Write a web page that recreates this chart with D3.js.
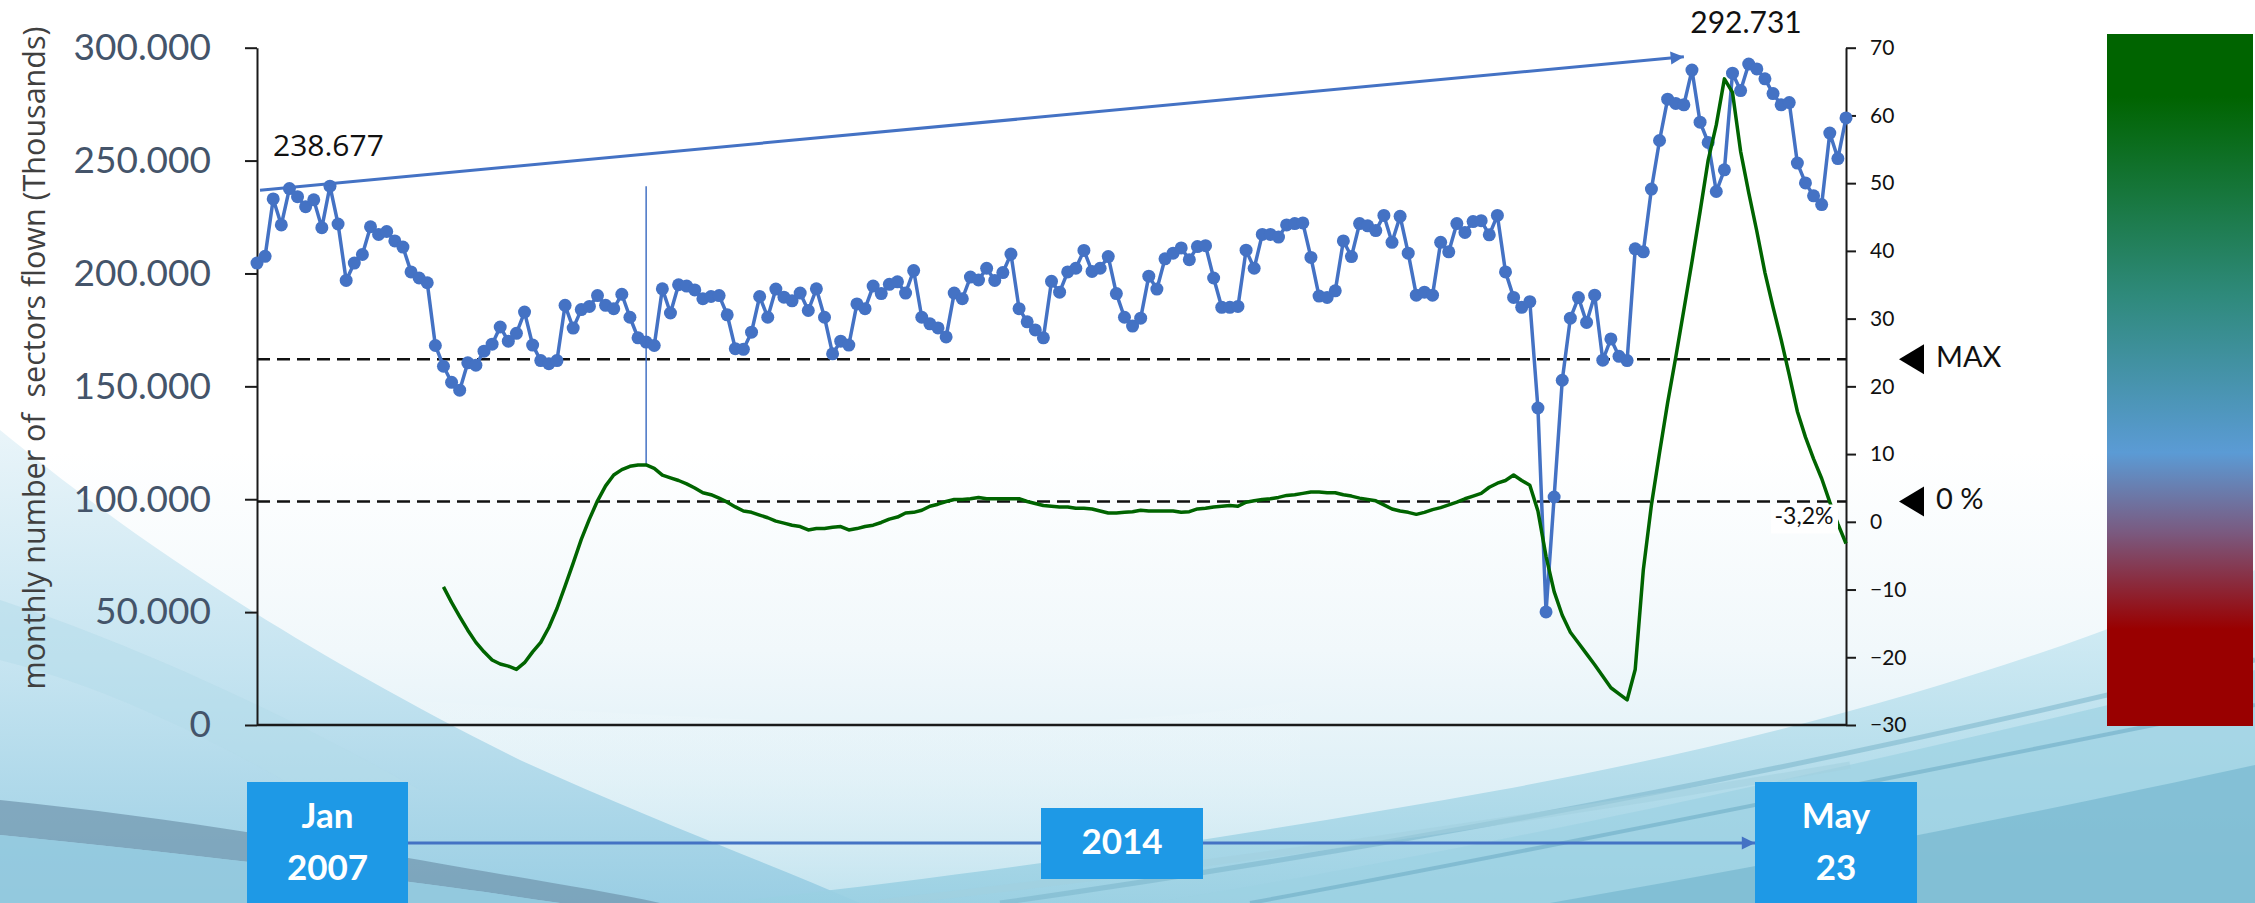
<!DOCTYPE html>
<html><head><meta charset="utf-8">
<script src="https://cdn.jsdelivr.net/npm/d3@7"></script>
<style>
html,body{margin:0;padding:0;background:#fff;overflow:hidden}
svg{display:block}
</style></head><body>
<svg id="chart" width="2255" height="903"></svg>
<script>
// ---------------- DATA ----------------
// monthly number of sectors flown (thousands), Jan 2007 .. May 2023
const sectors = [
204.6,207.6,233.0,221.5,237.6,234.0,229.6,232.6,220.3,238.677,221.9,196.9,
204.6,208.4,220.7,217.3,218.6,214.4,211.7,200.7,198.0,195.9,168.1,158.9,
151.8,148.3,160.4,159.4,165.6,168.7,176.3,170.0,173.5,182.9,168.3,161.4,
160.0,161.4,185.9,175.8,184.0,185.4,190.2,185.9,184.4,190.8,180.6,171.5,
169.6,168.1,193.2,182.5,195.0,194.4,192.7,188.8,189.8,190.2,181.7,166.7,
166.4,174.0,189.8,180.6,193.1,189.5,187.9,191.3,183.6,193.2,180.6,164.4,
170.0,168.3,186.5,184.4,194.4,191.1,195.2,196.3,191.3,201.3,180.6,177.7,
175.9,171.9,191.3,188.8,198.4,197.1,202.3,196.9,200.4,208.6,184.4,178.6,
175.0,171.5,196.5,191.7,200.7,202.3,210.2,200.9,202.3,207.5,191.1,180.6,
176.7,180.2,198.8,193.1,206.5,209.0,211.3,206.1,211.9,212.3,198.0,185.0,
185.0,185.4,210.3,202.3,217.3,217.3,216.1,221.5,222.1,222.4,207.1,190.0,
189.4,192.3,214.4,207.5,222.1,221.1,219.0,225.7,213.8,225.3,209.0,190.4,
191.7,190.4,213.8,209.6,222.1,218.2,223.0,223.4,217.1,225.7,200.7,189.4,
185.0,187.5,140.4,50.1,101.0,152.7,180.2,189.3,178.3,190.4,161.6,171.0,
163.3,161.4,210.9,209.6,237.4,258.9,277.2,275.3,274.7,290.1,267.0,258.0,
236.3,245.9,288.7,281.0,292.731,290.6,286.2,279.7,274.7,275.7,248.9,240.1,
234.4,230.5,262.2,250.9,268.9
];
// growth (%) right axis, Dec 2008 .. May 2023
const growth = [
-9.6,-11.9,-14.0,-16.0,-17.8,-19.2,-20.4,-21.0,-21.3,-21.8,-20.8,-19.2,
-17.8,-15.6,-12.8,-9.5,-6.1,-2.6,0.4,3.1,5.3,6.9,7.7,8.2,
8.4,8.4,7.9,6.9,6.5,6.1,5.6,5.0,4.3,4.0,3.5,2.9,
2.2,1.6,1.4,1.0,0.6,0.1,-0.2,-0.5,-0.7,-1.2,-1.0,-1.0,
-0.8,-0.7,-1.2,-1.0,-0.7,-0.5,-0.1,0.4,0.7,1.3,1.4,1.7,
2.3,2.6,3.0,3.3,3.3,3.4,3.6,3.4,3.4,3.4,3.4,3.4,
3.0,2.7,2.4,2.3,2.2,2.2,2.0,2.0,1.9,1.6,1.3,1.3,
1.4,1.5,1.7,1.6,1.6,1.6,1.6,1.4,1.5,1.9,2.0,2.2,
2.3,2.4,2.3,2.9,3.1,3.3,3.4,3.6,3.9,4.0,4.2,4.4,
4.4,4.3,4.3,4.0,3.8,3.5,3.3,3.1,2.5,1.9,1.6,1.4,
1.1,1.4,1.8,2.1,2.5,2.9,3.4,3.8,4.2,5.1,5.7,6.1,
6.9,6.1,5.4,1.6,-5.1,-10.3,-13.8,-16.3,-17.9,-19.5,-21.1,-22.8,
-24.5,-25.4,-26.3,-21.8,-7.1,2.5,10.2,17.6,24.3,31.3,38.4,45.8,
53.4,58.6,65.4,63.4,54.7,48.6,42.9,36.8,31.7,26.9,21.7,16.3,
12.5,9.3,6.4,2.9,-0.3,-3.2
];
const months = d3.timeMonth.range(new Date(2007,0,1), new Date(2023,5,1)).map(d3.timeFormat("%Y-%m"));
const growthMonths = months.slice(months.length - growth.length);
const leftTicks = [0,50,100,150,200,250,300];
const rightTicks = [-30,-20,-10,0,10,20,30,40,50,60,70];
const startLabel = "238.677", peakLabel = "292.731";
const markerMonth = "2011-01";
const trendFrom = ["2007-01", 236.9], trendTo = ["2021-09", 296.0];
const maxLevel = 24, zeroLevel = 3;
const lastLabel = "-3,2%";
const timelineLabels = [["Jan","2007"],["2014"],["May","23"]];
const yTitle = "monthly number of  sectors flown (Thousands)";

// ---------------- SETUP ----------------
const W = 2255, H = 903;
const svg = d3.select("#chart");
const defs = svg.append("defs");
const X0 = 257, X1 = 1846, YT = 47.7, YB = 725;

const x = d3.scalePoint().domain(months).range([X0, X1]);
const yL = d3.scaleLinear().domain([0,300]).range([YB, YT]);
const yR = d3.scaleLinear().domain([-30,70]).range([YB, YT]);

// ---------------- BACKGROUND ----------------
function lg(id, stops, vertical=true){
  const g = defs.append("linearGradient").attr("id", id)
    .attr("x1",0).attr("y1",0).attr("x2", vertical?0:1).attr("y2", vertical?1:0);
  stops.forEach(s => g.append("stop").attr("offset", s[0]).attr("stop-color", s[1]).attr("stop-opacity", s[2]===undefined?1:s[2]));
}
lg("bgBase", [[0,"#ffffff"],[0.5,"#ffffff"],[0.72,"#f1f8fb"],[1,"#cfe9f3"]]);
lg("leftGlow", [[0,"#e8f4f9"],[0.5,"#c3e3f0"],[1,"#98cde3"]]);
lg("rightGlow", [[0,"#d6eef6"],[1,"#98cfe2"]]);
lg("midGlow", [[0,"#ffffff",0],[1,"#bfe2ee",0.9]]);
lg("bar", [[0,"#006400"],[0.09,"#006400"],[0.38,"#2f8a7c"],[0.605,"#5b9bd5"],[0.72,"#7a5a80"],[0.86,"#990000"],[1,"#990000"]]);

const bg = svg.append("g");
bg.append("rect").attr("width",W).attr("height",H).attr("fill","url(#bgBase)");
bg.append("path").attr("d","M240,903 L240,690 C600,710 1000,750 1300,700 L1300,903 Z").attr("fill","url(#midGlow)");
bg.append("path").attr("d","M0,430 C110,520 260,630 520,760 C640,815 760,860 860,903 L0,903 Z").attr("fill","url(#leftGlow)").attr("opacity",0.95);
bg.append("path").attr("d","M0,600 C120,640 260,700 420,790 L300,790 C180,720 80,680 0,660 Z").attr("fill","#b4dbea").attr("opacity",0.5);
bg.append("path").attr("d","M0,800 C150,815 300,840 420,860 C520,878 600,890 660,903 L560,903 C440,885 250,860 0,835 Z").attr("fill","#6f94ad").attr("opacity",0.7);
bg.append("path").attr("d","M0,835 C250,860 440,885 560,903 L0,903 Z").attr("fill","#92c8dd").attr("opacity",0.85);
bg.append("path").attr("d","M720,903 C1000,872 1250,835 1500,790 C1800,735 2050,660 2255,570 L2255,903 Z").attr("fill","url(#rightGlow)").attr("opacity",0.9);
bg.append("path").attr("d","M1150,903 C1450,855 1800,780 2255,670 L2255,903 Z").attr("fill","#9dd1e3").attr("opacity",0.7);
bg.append("path").attr("d","M1550,903 C1800,860 2050,810 2255,765 L2255,903 Z").attr("fill","#6fb2cc").attr("opacity",0.6);
[["M1000,903 C1300,860 1700,795 2255,660","#7ab4ca",5],["M1250,903 C1550,848 1900,775 2255,705","#6aa9c2",4],["M880,903 C1200,866 1500,825 1850,765","#a3cfde",7]]
  .forEach(p => bg.append("path").attr("d",p[0]).attr("fill","none").attr("stroke",p[1]).attr("stroke-width",p[2]).attr("opacity",0.55));

// right colour bar
svg.append("rect").attr("x",2107).attr("y",34).attr("width",146).attr("height",692).attr("fill","url(#bar)");

// ---------------- AXES ----------------
const ptFmt = d3.formatLocale({decimal:",", thousands:".", grouping:[3], currency:["","€"]}).format(",");
const axL = svg.append("g").attr("transform",`translate(${X0},0)`)
  .call(d3.axisLeft(yL).tickValues(leftTicks).tickSize(12).tickSizeOuter(0).tickPadding(34).tickFormat(d => ptFmt(d*1000)));
axL.select(".domain").attr("stroke","#1a1a1a").attr("stroke-width",2);
axL.selectAll(".tick line").attr("stroke","#1a1a1a").attr("stroke-width",2);
axL.selectAll(".tick text").attr("font-family","Lato, 'Open Sans', sans-serif").attr("font-size",37).attr("fill","#44546A");

const axR = svg.append("g").attr("transform",`translate(${X1},0)`)
  .call(d3.axisRight(yR).tickValues(rightTicks).tickSize(10).tickSizeOuter(0).tickPadding(14));
axR.select(".domain").attr("stroke","#1a1a1a").attr("stroke-width",2);
axR.selectAll(".tick line").attr("stroke","#1a1a1a").attr("stroke-width",2);
axR.selectAll(".tick text").attr("font-family","Lato, 'Open Sans', sans-serif").attr("font-size",21).attr("fill","#111");

svg.append("line").attr("x1",X0).attr("x2",X1).attr("y1",YB).attr("y2",YB).attr("stroke","#1a1a1a").attr("stroke-width",2.5);

svg.append("text").attr("transform",`translate(45,358) rotate(-90)`)
  .attr("text-anchor","middle").attr("font-family","'Open Sans', sans-serif").attr("font-size",30.5)
  .attr("fill","#404040").attr("xml:space","preserve").style("white-space","pre").text(yTitle);

// ---------------- REFERENCE LINES ----------------
[maxLevel, zeroLevel].forEach(v => {
  svg.append("line").attr("x1",X0).attr("x2",X1).attr("y1",yR(v)).attr("y2",yR(v))
    .attr("stroke","#111").attr("stroke-width",2.5).attr("stroke-dasharray","13,7");
});

// ---------------- SERIES ----------------
const blue = "#4472C4";
svg.append("path").datum(sectors)
  .attr("d", d3.line().x((d,i)=>x(months[i])).y(d=>yL(d)))
  .attr("fill","none").attr("stroke",blue).attr("stroke-width",3.5).attr("stroke-linejoin","round");
svg.append("g").selectAll("circle").data(sectors).join("circle")
  .attr("cx",(d,i)=>x(months[i])).attr("cy",d=>yL(d)).attr("r",6.5).attr("fill",blue);

// vertical marker
const mi = growthMonths.indexOf(markerMonth);
svg.append("line").attr("x1",x(markerMonth)).attr("x2",x(markerMonth))
  .attr("y1",yL(+startLabel)).attr("y2",yR(growth[mi])).attr("stroke",blue).attr("stroke-width",1.5);

svg.append("path").datum(growth)
  .attr("d", d3.line().x((d,i)=>x(growthMonths[i])).y(d=>yR(d)))
  .attr("fill","none").attr("stroke","#006400").attr("stroke-width",3.5).attr("stroke-linejoin","round");

// ---------------- ANNOTATIONS ----------------
defs.append("marker").attr("id","arr").attr("viewBox","0 0 10 10").attr("refX",10).attr("refY",5)
  .attr("markerWidth",5).attr("markerHeight",4.4).attr("markerUnits","strokeWidth").attr("orient","auto")
  .append("path").attr("d","M0,0 L10,5 L0,10 Z").attr("fill",blue);
svg.append("line").attr("x1",x(trendFrom[0])+3).attr("y1",yL(trendFrom[1]))
  .attr("x2",x(trendTo[0])).attr("y2",yL(trendTo[1]))
  .attr("stroke",blue).attr("stroke-width",3).attr("marker-end","url(#arr)");

svg.append("text").attr("x",273).attr("y",156).attr("font-family","'Open Sans', sans-serif").attr("font-size",30)
  .attr("fill","#111").text(startLabel);
svg.append("text").attr("x",1746).attr("y",33).attr("text-anchor","middle").attr("font-family","Lato, sans-serif")
  .attr("font-size",30).attr("fill","#111").text(peakLabel);

// MAX / 0% markers
function marker(v, label){
  const yy = yR(v);
  svg.append("path").attr("d",`M1899,${yy} L1924,${yy-15} L1924,${yy+15} Z`).attr("fill","#000");
  svg.append("text").attr("x",1936).attr("y",yy+8).attr("font-family","Lato, sans-serif").attr("font-size",29)
    .attr("fill","#111").text(label);
}
marker(maxLevel, "MAX");
marker(zeroLevel, "0 %");

// last value label
svg.append("rect").attr("x",1771).attr("y",yR(zeroLevel)+3).attr("width",67).attr("height",29).attr("fill","#fff");
svg.append("text").attr("x",1804).attr("y",yR(zeroLevel)+23).attr("text-anchor","middle")
  .attr("font-family","Lato, sans-serif").attr("font-size",23).attr("fill","#111").text(lastLabel);

// ---------------- TIMELINE ----------------
svg.append("line").attr("x1",408).attr("x2",1755).attr("y1",843).attr("y2",843)
  .attr("stroke",blue).attr("stroke-width",3).attr("marker-end","url(#arr)");
const boxes = [{x:247,y:782,w:161,h:140},{x:1041,y:808,w:162,h:71},{x:1755,y:782,w:162,h:140}];
boxes.forEach((b,k) => {
  svg.append("rect").attr("x",b.x).attr("y",b.y).attr("width",b.w).attr("height",b.h).attr("fill","#1E99E6");
  const lines = timelineLabels[k];
  const base = lines.length === 2 ? [828, 880] : [854];
  lines.forEach((t,j) => svg.append("text").attr("x",b.x+b.w/2).attr("y",base[j]).attr("text-anchor","middle")
    .attr("font-family","Lato, sans-serif").attr("font-weight",700).attr("font-size",35).attr("fill","#fff").text(t));
});
</script>
</body></html>
